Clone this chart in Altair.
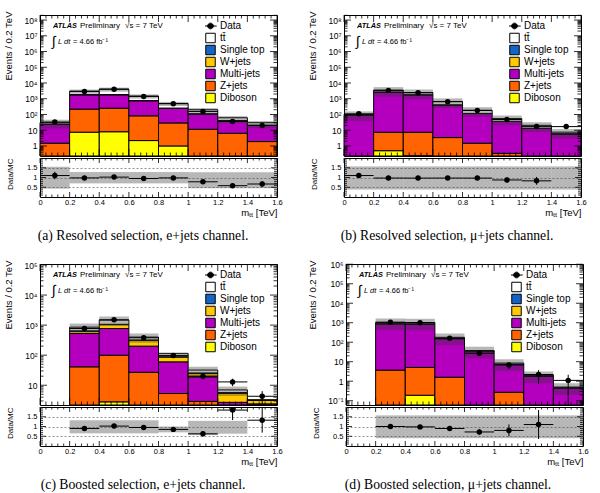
import math
import altair as alt
import pandas as pd

FONT = "Liberation Sans"
SERIF = "Liberation Serif"

# ---------------- data ----------------
BIN_LO = [0.0, 0.2, 0.4, 0.6, 0.8, 1.0, 1.2, 1.4]
BIN_HI = [0.2, 0.4, 0.6, 0.8, 1.0, 1.2, 1.4, 1.6]
X_LABELS = [0.0, 0.2, 0.4, 0.6, 0.8, 1.0, 1.2, 1.4, 1.6]

STACK_ORDER = ["Diboson", "Z+jets", "Multi-jets", "W+jets", "Single top", "tt̄"]
STACK_COLORS = ["#ffff00", "#ff6400", "#b400be", "#ffc800", "#1464c8", "#ffffff"]
LEGEND_LABELS = ["Data", "tt̄", "Single top", "W+jets", "Multi-jets", "Z+jets", "Diboson"]
LEGEND_COLORS = ["#000000", "#ffffff", "#1464c8", "#ffc800", "#b400be", "#ff6400", "#ffff00"]

# (a) resolved, e+jets
A_DIBOSON = [0, 7.5, 8, 2.2, 1.0, 0, 0, 0]
A_ZJETS = [1.5, 212, 242, 80, 28, 11.5, 6.4, 1.9]
A_MULTIJETS = [22.5, 1580, 1550, 670, 220, 98, 33.6, 18]
A_WJETS = [0.5, 25, 30, 10, 4, 2, 1, 1]
A_SINGLETOP = [0.2, 10, 12, 5, 2, 1, 0.4, 0.2]
A_TTBAR = [5.3, 1165, 2158, 713, 240, 87.5, 20.6, 8.9]
A_DATA = [33, 2940, 4080, 1406, 485, 156, 36, 20]
A_BAND_LO = [0.43, 0.70, 0.70, 0.70, 0.70, 0.45, 0.45, 0.45]
A_BAND_HI = [1.55, 1.28, 1.28, 1.28, 1.28, 1.27, 1.27, 1.27]

# (b) resolved, mu+jets
B_DIBOSON = [0, 0.5, 0.24, 0, 0, 0, 0, 0]
B_ZJETS = [0, 6.9, 7.2, 3.4, 1.5, 0.34, 0, 0]
B_MULTIJETS = [87, 2690, 1790, 405, 113, 35.7, 13, 5.8]
B_WJETS = [0.5, 15, 12, 4, 1.5, 0.6, 0.3, 0.2]
B_SINGLETOP = [0.3, 8, 6, 2, 0.7, 0.3, 0.1, 0.05]
B_TTBAR = [12.2, 780, 660, 256, 69, 18, 7.1, 1.45]
B_DATA = [110, 3400, 2400, 650, 180, 48, 17, 17]
B_BAND_LO = [0.38, 0.38, 0.38, 0.38, 0.38, 0.38, 0.38, 0.38]
B_BAND_HI = [1.57, 1.57, 1.57, 1.57, 1.57, 1.57, 1.57, 1.57]

# (c) boosted, e+jets
C_DIBOSON = [0, 0, 2.8, 0, 0, 0, 0, 0]
C_ZJETS = [0, 41, 97, 27, 5.3, 2.9, 1.5, 1.0]
C_MULTIJETS = [0, 484, 670, 173, 54.7, 16.1, 1.2, 1.4]
C_WJETS = [0, 105, 270, 115, 27, 6, 2.7, 0.7]
C_SINGLETOP = [0, 15, 25, 6, 2, 0.6, 0.3, 0.1]
C_TTBAR = [0, 210, 405, 79, 26, 6.4, 1.3, 0.05]
C_DATA = [0, 770, 1500, 380, 98, 20, 12.9, 4.3]
C_BAND_LO = [None, 0.65, 0.65, 0.65, 0.70, 0.56, 0.63, None]
C_BAND_HI = [None, 1.32, 1.32, 1.32, 1.00, 1.29, 1.29, None]

# (d) boosted, mu+jets
D_DIBOSON = [0, 0, 0.19, 0, 0, 0, 0, 0]
D_ZJETS = [0, 3.7, 4.9, 1.6, 0, 0.27, 0, 0]
D_MULTIJETS = [0, 880, 860, 150, 33, 7, 1.8, 0.45]
D_WJETS = [0, 10, 10, 2, 0.5, 0.1, 0.05, 0.01]
D_SINGLETOP = [0, 5, 5, 1, 0.3, 0.05, 0.02, 0.005]
D_TTBAR = [0, 151, 140, 23.4, 3.7, 1.08, 0.13, 0.035]
D_DATA = [0, 1050, 1000, 160, 27, 6.8, 2.2, 1.1]
D_BAND_LO = [None, 0.4, 0.4, 0.4, 0.4, 0.4, 0.4, 0.4]
D_BAND_HI = [None, 1.57, 1.57, 1.57, 1.57, 1.57, 1.57, 1.57]

CAPTIONS = [
    "(a)  Resolved selection, e+jets channel.",
    "(b)  Resolved selection, μ+jets channel.",
    "(c)  Boosted selection, e+jets channel.",
    "(d)  Boosted selection, μ+jets channel.",
]

# ---------------- layout / style ----------------
W = 237
HM = 141
HR = 39
DATA_SHAPE = "M-1.3,0L1.3,0M0.6,0A0.6,0.6,0,1,1,-0.6,0A0.6,0.6,0,1,1,0.6,0Z"
LEGEND_SHAPES = [DATA_SHAPE] + ["square"] * 6
SUP = str.maketrans("-0123456789", "⁻⁰¹²³⁴⁵⁶⁷⁸⁹")
X_TICKS = [round(i * 0.04, 2) for i in range(41)]
X_MINOR = [v for v in X_TICKS if abs(v * 5 - round(v * 5)) > 0.01]
R_MAJOR = [0.5, 1.0, 1.5]
R_MINOR = [round(i * 0.1, 1) for i in range(1, 20) if i % 5 != 0]


def log_ticks(ymin, ymax):
    majors, minors = [], []
    for k in range(math.floor(math.log10(ymin)), math.ceil(math.log10(ymax)) + 1):
        for j in range(1, 10):
            v = j * (10.0 ** k)
            if ymin <= v <= ymax:
                (majors if j == 1 else minors).append(v)
    return majors, minors


def log_label_expr(majors):
    expr = "''"
    for v in majors:
        k = round(math.log10(v))
        lab = "1" if k == 0 else ("10" if k == 1 else "10" + str(k).translate(SUP))
        expr = f"abs(datum.value - {v!r}) < {v * 0.01!r} ? '{lab}' : ({expr})"
    return expr


def y_ticks(values, scale, size):
    """Inward ticks on the left and right frame edges, placed through the y scale."""
    df = pd.DataFrame({"v": values})
    base = alt.Chart(df).mark_rule(color="black", strokeWidth=0.8)
    left = base.encode(y=alt.Y("v:Q", scale=scale, axis=None), x=alt.value(0), x2=alt.value(size))
    right = base.encode(y=alt.Y("v:Q", scale=scale, axis=None), x=alt.value(W), x2=alt.value(W - size))
    return [left, right]


def x_ticks(values, scale, size, h_px):
    """Inward ticks on the bottom and top frame edges, placed through the x scale."""
    df = pd.DataFrame({"v": values})
    base = alt.Chart(df).mark_rule(color="black", strokeWidth=0.8)
    bottom = base.encode(x=alt.X("v:Q", scale=scale, axis=None), y=alt.value(h_px), y2=alt.value(h_px - size))
    top = base.encode(x=alt.X("v:Q", scale=scale, axis=None), y=alt.value(0), y2=alt.value(size))
    return [bottom, top]


def text_layer(txt, x, y, size, weight="normal", style="normal"):
    return alt.Chart(alt.Data(values=[{}])).mark_text(
        text=txt, font=FONT, fontSize=size, fontWeight=weight, fontStyle=style,
        align="left", baseline="middle", color="black"
    ).encode(x=alt.value(x), y=alt.value(y))


def panel(comps, data, blo, bhi, ymin, ymax, caption):
    xs = alt.Scale(domain=[0, 1.6], nice=False, zero=False)
    ys = alt.Scale(type="log", domain=[ymin, ymax], nice=False)
    majors, minors = log_ticks(ymin, ymax)

    rows, totals = [], []
    for i in range(8):
        cum = 0.0
        for name, col in zip(STACK_ORDER, STACK_COLORS):
            v = comps[name][i]
            if v > 0:
                lo, hi = cum, cum + v
                cum = hi
                if hi > ymin:
                    rows.append(dict(lo=BIN_LO[i], hi=BIN_HI[i], bot=max(lo, ymin), top=hi, color=col))
        totals.append(cum)
    stack_df = pd.DataFrame(rows)

    band_rows, rband_rows, d_rows, r_rows = [], [], [], []
    for i in range(8):
        t = totals[i]
        if t > 0 and blo[i] is not None:
            band_rows.append(dict(lo=BIN_LO[i], hi=BIN_HI[i], b0=max(t * blo[i], ymin), b1=t * bhi[i]))
            rband_rows.append(dict(lo=BIN_LO[i], hi=BIN_HI[i], r0=blo[i], r1=bhi[i]))
        d = data[i]
        if d > 0:
            e = math.sqrt(d)
            d_rows.append(dict(x=(BIN_LO[i] + BIN_HI[i]) / 2, lo=BIN_LO[i], hi=BIN_HI[i], v=d,
                               e0=max(d - e, ymin), e1=d + e))
            if t > 0 and d / t <= 2:
                r = d / t
                r_rows.append(dict(x=(BIN_LO[i] + BIN_HI[i]) / 2, lo=BIN_LO[i], hi=BIN_HI[i], r=r,
                                   e0=max(r - e / t, 0), e1=min(r + e / t, 2)))
    band_df = pd.DataFrame(band_rows)
    d_df = pd.DataFrame(d_rows)

    # ---- main (log) panel ----
    rect = alt.Chart(stack_df).mark_rect(stroke="black", strokeWidth=1).encode(
        x=alt.X("lo:Q", scale=xs, axis=None),
        x2="hi:Q",
        y=alt.Y("top:Q", scale=ys, axis=alt.Axis(
            orient="left", values=majors, labelExpr=log_label_expr(majors), ticks=False,
            domain=False, grid=False, labelFontSize=8.5, labelPadding=3,
            title="Events / 0.2 TeV", titleFontSize=9.5, titlePadding=10,
            titleAnchor="end", titleY=-4)),
        y2="bot:Q",
        fill=alt.Fill("color:N", scale=None),
    )
    band = alt.Chart(band_df).mark_rect(fill="#303030", opacity=0.35, clip=True).encode(
        x=alt.X("lo:Q", scale=xs, axis=None), x2="hi:Q",
        y=alt.Y("b1:Q", scale=ys, axis=None), y2="b0:Q",
    )
    vbar = alt.Chart(d_df).mark_rule(color="black", strokeWidth=1, clip=True).encode(
        x=alt.X("x:Q", scale=xs, axis=None),
        y=alt.Y("e0:Q", scale=ys, axis=None), y2="e1:Q",
    )
    hbar = alt.Chart(d_df).mark_rule(color="black", strokeWidth=1, clip=True).encode(
        x=alt.X("lo:Q", scale=xs, axis=None), x2="hi:Q",
        y=alt.Y("v:Q", scale=ys, axis=None),
    )
    pts = alt.Chart(d_df).mark_circle(color="black", size=30, opacity=1, clip=True).encode(
        x=alt.X("x:Q", scale=xs, axis=None),
        y=alt.Y("v:Q", scale=ys, axis=None),
    )
    leg_kw = dict(title=None, orient="none", legendX=165, legendY=5, labelFont=FONT,
                  labelFontSize=10, labelColor="black", symbolSize=90,
                  symbolStrokeColor="black", symbolStrokeWidth=1, symbolOpacity=1,
                  rowPadding=0, clipHeight=12, labelOffset=4, padding=0)
    legend = alt.Chart(pd.DataFrame({"comp": LEGEND_LABELS})).transform_filter("false").mark_point(
        filled=True, opacity=1, stroke="black", strokeWidth=1, size=90
    ).encode(
        fill=alt.Fill("comp:N", scale=alt.Scale(domain=LEGEND_LABELS, range=LEGEND_COLORS),
                      legend=alt.Legend(**leg_kw)),
        shape=alt.Shape("comp:N", scale=alt.Scale(domain=LEGEND_LABELS, range=LEGEND_SHAPES),
                        legend=alt.Legend(**leg_kw)),
    )
    texts = [
        text_layer("ATLAS", 13, 11, 7.3, "bold", "italic"),
        text_layer("Preliminary", 40, 11, 8),
        text_layer("√s = 7 TeV", 85, 11, 8),
        text_layer("∫", 12, 27, 14),
        text_layer("L dt", 18, 27, 7.5, "normal", "italic"),
        text_layer("= 4.66 fb⁻¹", 33, 27, 7.5),
    ]
    ticks_main = (y_ticks(majors, ys, 7) + y_ticks(minors, ys, 3.5)
                  + x_ticks(X_LABELS, xs, 7, HM) + x_ticks(X_MINOR, xs, 3.5, HM))
    main = alt.layer(rect, band, vbar, hbar, pts, legend, *ticks_main, *texts).resolve_axis(
        x="independent", y="independent").properties(width=W, height=HM)

    # ---- ratio panel ----
    rs = alt.Scale(domain=[0, 2], nice=False, zero=False)
    rband_df = pd.DataFrame(rband_rows)
    rband = alt.Chart(rband_df).mark_rect(fill="#303030", opacity=0.35).encode(
        x=alt.X("lo:Q", scale=xs, axis=alt.Axis(
            orient="bottom", values=X_LABELS, format="~g", ticks=False, domain=False,
            grid=False, labelFontSize=7.5, labelPadding=1.5, labelFlush=False,
            title="mₜₜ [TeV]", titleFontSize=9.5, titleAnchor="end", titleAlign="right",
            titlePadding=1)),
        x2="hi:Q",
        y=alt.Y("r1:Q", scale=rs, axis=alt.Axis(
            orient="left", values=R_MAJOR, format="~g", ticks=False, domain=False, grid=True,
            gridDash=[2, 2], gridColor="#777777", gridWidth=0.8,
            labelFontSize=7.5, labelPadding=3, title="Data/MC", titleFontSize=8,
            titlePadding=12, titleAnchor="end")),
        y2="r0:Q",
    )
    r_df = pd.DataFrame(r_rows)
    rv = alt.Chart(r_df).mark_rule(color="black", strokeWidth=1, clip=True).encode(
        x=alt.X("x:Q", scale=xs, axis=None),
        y=alt.Y("e0:Q", scale=rs, axis=None), y2="e1:Q",
    )
    rh = alt.Chart(r_df).mark_rule(color="black", strokeWidth=1, clip=True).encode(
        x=alt.X("lo:Q", scale=xs, axis=None), x2="hi:Q",
        y=alt.Y("r:Q", scale=rs, axis=None),
    )
    rp = alt.Chart(r_df).mark_circle(color="black", size=30, opacity=1, clip=True).encode(
        x=alt.X("x:Q", scale=xs, axis=None),
        y=alt.Y("r:Q", scale=rs, axis=None),
    )
    ticks_ratio = (y_ticks(R_MAJOR, rs, 6) + y_ticks(R_MINOR, rs, 3)
                   + x_ticks(X_LABELS, xs, 5, HR) + x_ticks(X_MINOR, xs, 2.5, HR))
    ratio = alt.layer(rband, rv, rh, rp, *ticks_ratio).resolve_axis(
        x="independent", y="independent").properties(width=W, height=HR)

    return alt.vconcat(main, ratio, spacing=0).properties(
        title=alt.TitleParams(text=caption, orient="bottom", anchor="middle", frame="bounds",
                              offset=12, font=SERIF, fontSize=13.7, fontWeight="normal",
                              color="black")
    ).resolve_scale(fill="independent", shape="independent")


def comps_of(dib, z, mj, w, st, tt):
    return {"Diboson": dib, "Z+jets": z, "Multi-jets": mj, "W+jets": w, "Single top": st, "tt̄": tt}


pa = panel(comps_of(A_DIBOSON, A_ZJETS, A_MULTIJETS, A_WJETS, A_SINGLETOP, A_TTBAR),
           A_DATA, A_BAND_LO, A_BAND_HI, 0.23, 2.1e8, CAPTIONS[0])
pb = panel(comps_of(B_DIBOSON, B_ZJETS, B_MULTIJETS, B_WJETS, B_SINGLETOP, B_TTBAR),
           B_DATA, B_BAND_LO, B_BAND_HI, 0.23, 2.1e8, CAPTIONS[1])
pc = panel(comps_of(C_DIBOSON, C_ZJETS, C_MULTIJETS, C_WJETS, C_SINGLETOP, C_TTBAR),
           C_DATA, C_BAND_LO, C_BAND_HI, 2.2, 1.08e5, CAPTIONS[2])
pd_ = panel(comps_of(D_DIBOSON, D_ZJETS, D_MULTIJETS, D_WJETS, D_SINGLETOP, D_TTBAR),
            D_DATA, D_BAND_LO, D_BAND_HI, 0.06, 1.03e6, CAPTIONS[3])

SX = 24
SY = 16
row1 = alt.hconcat(pa, pb, spacing=SX).resolve_scale(fill="independent", shape="independent")
row2 = alt.hconcat(pc, pd_, spacing=SX).resolve_scale(fill="independent", shape="independent")

chart = alt.vconcat(row1, row2, spacing=SY).resolve_scale(
    fill="independent", shape="independent"
).properties(
    padding={"left": 3, "top": 10, "right": 0, "bottom": 0},
    background="white",
).configure_view(
    stroke="black", strokeWidth=1
).configure_axis(
    labelFont=FONT, titleFont=FONT, labelColor="black", titleColor="black",
    titleFontWeight="normal"
)

chart.save("out.html", embed_options={"renderer": "svg", "actions": False})
